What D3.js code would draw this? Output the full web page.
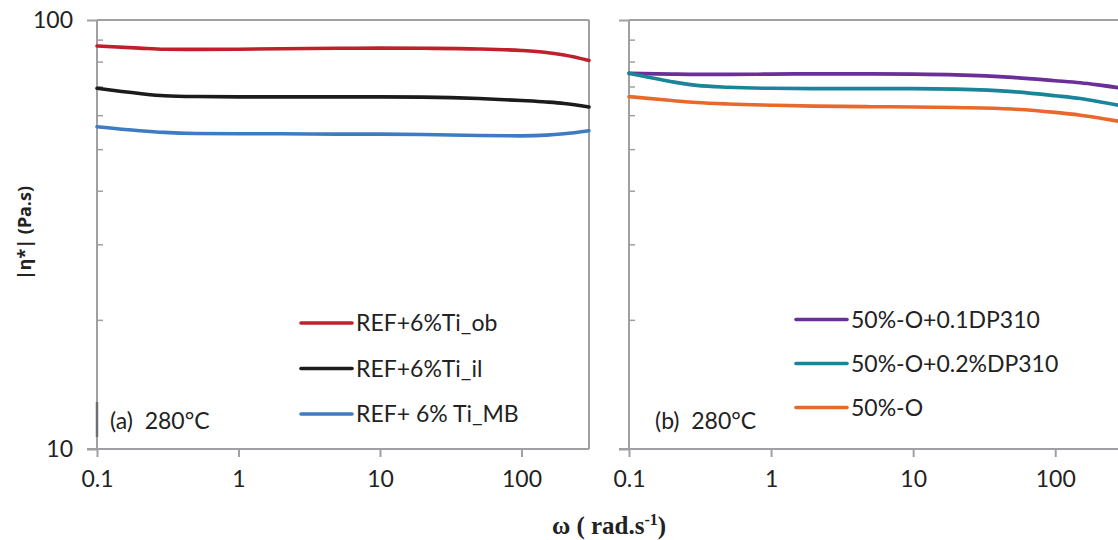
<!DOCTYPE html>
<html><head><meta charset="utf-8">
<script src="https://cdn.jsdelivr.net/npm/d3@7"></script>
<style>
html,body{margin:0;padding:0;background:#fff;}
svg{display:block;}
</style></head>
<body>
<svg id="chart" width="1118" height="540"></svg>
<script>
// ---- data ----
const omega = [0.1, 0.2, 0.3, 0.5, 1, 2, 5, 10, 20, 50, 100, 150, 200, 300];
const xTicks = [0.1, 1, 10, 100];
const yMajorTicks = [10, 100];
const yMinorTicks = [20, 30, 40, 50, 60, 70, 80, 90];

const seriesNamesA = ["REF+6%Ti_ob", "REF+6%Ti_il", "REF+ 6% Ti_MB"];
const refTiOb = [87.0, 86.0, 85.5, 85.4, 85.5, 85.7, 85.9, 86.0, 85.9, 85.6, 84.9, 84.0, 82.9, 80.5];
const refTiIl = [69.3, 67.4, 66.6, 66.3, 66.2, 66.2, 66.2, 66.2, 66.1, 65.6, 64.9, 64.4, 63.9, 62.7];
const refTiMB = [56.4, 55.2, 54.7, 54.4, 54.3, 54.3, 54.2, 54.2, 54.1, 53.8, 53.7, 53.9, 54.3, 55.2];

const seriesNamesB = ["50%-O+0.1DP310", "50%-O+0.2%DP310", "50%-O"];
const o50dp01 = [75.1, 74.8, 74.7, 74.7, 74.8, 74.9, 74.9, 74.8, 74.5, 73.5, 72.2, 71.4, 70.6, 69.3];
const o50dp02 = [75.1, 71.8, 70.4, 69.7, 69.3, 69.2, 69.2, 69.2, 69.0, 68.1, 66.6, 65.6, 64.6, 63.0];
const o50 =     [66.3, 64.9, 64.2, 63.7, 63.3, 63.0, 62.8, 62.7, 62.5, 62.0, 60.9, 60.0, 59.2, 57.8];

const colorsA = ["#c0202b", "#1c1a1b", "#3f7bc2"];
const colorsB = ["#6b2f98", "#1a8499", "#e8692b"];

// ---- drawing ----
const svg = d3.select("#chart");
const axisColor = "#a0a0a4";
const font = "Lato, 'Open Sans', sans-serif";
const fs = "23px";

const y = d3.scaleLog().domain([10, 100]).range([449, 20]);

function panel(x0, xEnd, dataSets, names, colors, label, labelX, legendX, legendY, legendGap, drawRight, showYLabels) {
  const x = d3.scaleLog().domain([0.1, 300]).range([x0, xEnd]);
  const g = svg.append("g");

  // top border
  g.append("line").attr("x1", x0).attr("x2", Math.min(xEnd, 1118)).attr("y1", 20).attr("y2", 20)
    .attr("stroke", axisColor).attr("stroke-width", 2);
  if (drawRight) {
    g.append("line").attr("x1", xEnd).attr("x2", xEnd).attr("y1", 20).attr("y2", 449)
      .attr("stroke", axisColor).attr("stroke-width", 2);
  }

  // x axis
  const xa = g.append("g").attr("transform", "translate(0,449)")
    .call(d3.axisBottom(x).tickValues(xTicks).tickSize(8).tickPadding(14).tickFormat(d => String(d)));
  xa.select(".domain").remove();
  xa.append("line").attr("x1", x0 - 10).attr("x2", Math.min(xEnd, 1118)).attr("y1", 0).attr("y2", 0)
    .attr("stroke", axisColor).attr("stroke-width", 2);
  xa.selectAll(".tick line").attr("stroke", axisColor).attr("stroke-width", 2);
  xa.selectAll(".tick text").attr("fill", "#222").style("font-family", font).style("font-size", fs);

  // y axis major
  const ya = g.append("g").attr("transform", `translate(${x0},0)`)
    .call(d3.axisLeft(y).tickValues(yMajorTicks).tickSize(10).tickPadding(14)
      .tickFormat(d => showYLabels ? String(d) : ""));
  ya.select(".domain").attr("stroke", axisColor).attr("stroke-width", 2).attr("d", "M0,20V449");
  ya.selectAll(".tick line").attr("stroke", axisColor).attr("stroke-width", 2);
  ya.selectAll(".tick text").attr("fill", "#222").style("font-family", font).style("font-size", fs);
  // y axis minor (inside)
  const ym = g.append("g").attr("transform", `translate(${x0},0)`)
    .call(d3.axisRight(y).tickValues(yMinorTicks).tickSize(6).tickFormat(""));
  ym.select(".domain").remove();
  ym.selectAll(".tick line").attr("stroke", axisColor).attr("stroke-width", 1.5);

  // lines
  const line = d3.line().x((d, i) => x(omega[i])).y(d => y(d)).curve(d3.curveMonotoneX);
  dataSets.forEach((ds, k) => {
    g.append("path").datum(ds).attr("d", line).attr("fill", "none")
      .attr("stroke", colors[k]).attr("stroke-width", 3.6).attr("stroke-linecap", "round");
  });

  // legend
  names.forEach((n, k) => {
    const ly = legendY + k * legendGap;
    g.append("line").attr("x1", legendX).attr("x2", legendX + 51).attr("y1", ly).attr("y2", ly)
      .attr("stroke", colors[k]).attr("stroke-width", 3.6).attr("stroke-linecap", "round");
    g.append("text").attr("x", legendX + 55).attr("y", ly).attr("dy", "0.35em")
      .attr("fill", "#222").style("font-family", font).style("font-size", fs).text(n);
  });

  // panel label
  g.append("text").attr("x", labelX).attr("y", 429).attr("fill", "#222")
    .style("font-family", font).style("font-size", fs).text(label);
  return g;
}

const gA = panel(97, 589, [refTiOb, refTiIl, refTiMB], seriesNamesA, colorsA, "(a)\u00a0 280°C", 110, 301, 323, 45.5, true, true);
// small dark mark on left axis of panel a
gA.append("line").attr("x1", 97).attr("x2", 97).attr("y1", 402).attr("y2", 437)
  .attr("stroke", "#6e6e72").attr("stroke-width", 2.5);
panel(629, 1123, [o50dp01, o50dp02, o50], seriesNamesB, colorsB, "(b)\u00a0 280°C", 655, 796, 319.5, 44, false, false);

// axis titles
svg.append("text").attr("transform", "translate(31,233) rotate(-90)").attr("text-anchor", "middle")
  .attr("fill", "#222").style("font-family", "'Noto Sans', 'DejaVu Sans', sans-serif").style("font-weight", "bold")
  .style("font-size", "18px").text("|η*| (Pa.s)");

const xt = svg.append("text").attr("x", 609).attr("y", 534).attr("text-anchor", "middle")
  .attr("fill", "#222").style("font-family", "'Liberation Serif', serif").style("font-weight", "bold")
  .style("font-size", "25px");
xt.append("tspan").text("ω ( rad.s");
xt.append("tspan").attr("dy", -9).style("font-size", "16px").text("-1");
xt.append("tspan").attr("dy", 9).text(")");
</script>
</body></html>
